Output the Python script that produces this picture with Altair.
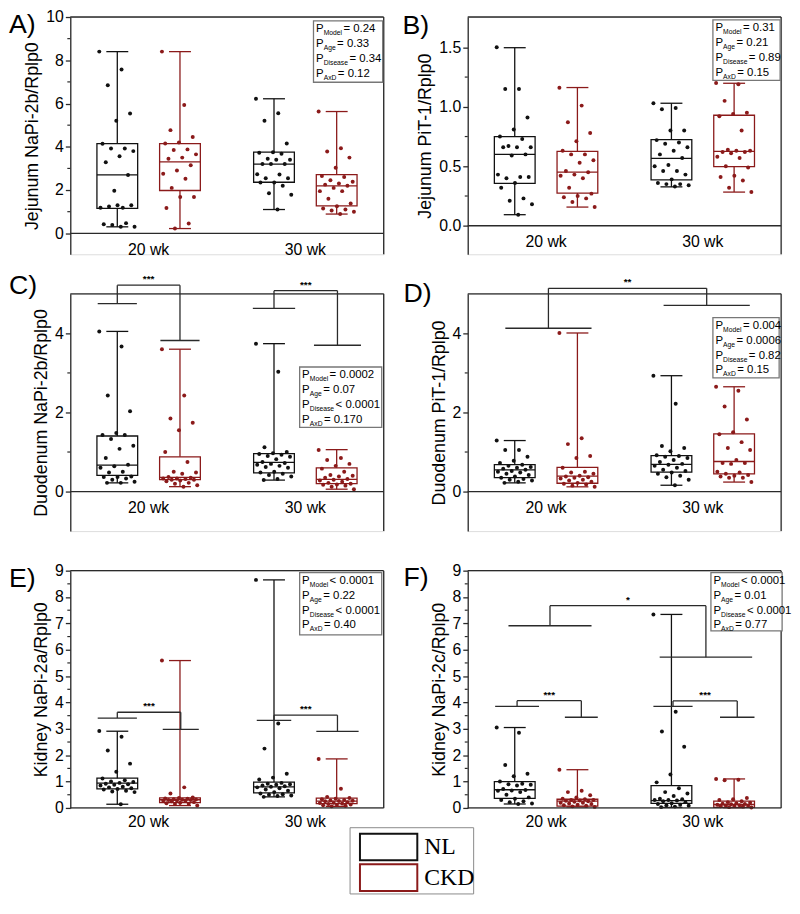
import altair as alt
import pandas as pd

FONT = "Liberation Sans"
NL_C = "#111111"
CKD_C = "#8B1A1A"
AX_C = "#2a2a2a"
W, H = 317, 240
POS = [0.6, 1.4, 2.6, 3.4]
GROUPS = ["NL", "CKD", "NL", "CKD"]
AGES = ["20 wk", "30 wk"]
AGE_POS = [1, 3]

# ---------------- Panel A : Jejunum NaPi-2b ----------------
A_NL20 = [8.4, 7.57, 6.85, 5.54, 5.2, 4.14, 3.92, 3.92, 3.8, 3.56, 3.29, 2.7, 1.97, 1.18, 1.18, 1.24, 1.3, 1.3, 0.42, 0.47, 0.38, 0.3, 0.3]
A_CKD20 = [8.4, 5.93, 4.77, 4.45, 4.2, 4.15, 3.88, 3.85, 3.65, 3.5, 3.45, 3.15, 2.9, 2.75, 2.52, 2.1, 1.68, 1.68, 1.17, 0.45, 0.22]
A_NL30 = [6.22, 5.55, 5.2, 4.15, 3.75, 3.72, 3.68, 3.45, 3.4, 3.4, 3.2, 3.2, 3.2, 2.73, 2.72, 2.55, 2.55, 2.35, 2.35, 2.2, 1.85, 1.78, 1.1]
A_CKD30 = [5.63, 3.93, 3.78, 3.5, 3.03, 2.65, 2.6, 2.45, 2.38, 2.3, 2.25, 2.2, 2.1, 1.95, 1.95, 1.6, 1.38, 1.25, 1.15, 1.1, 1.05, 1.0, 0.89]
A_STATS = [(0.3, 1.15, 2.7, 4.15, 8.4), (0.22, 1.98, 3.3, 4.15, 8.4), (1.1, 2.36, 3.2, 3.75, 6.22), (0.89, 1.27, 2.19, 2.71, 5.63)]
A_P = [("Model", "= 0.24"), ("Age", "= 0.33"), ("Disease", "= 0.34"), ("AxD", "= 0.12")]

# ---------------- Panel B : Jejunum PiT-1 ----------------
B_NL20 = [1.5, 1.15, 1.15, 0.91, 0.81, 0.75, 0.73, 0.67, 0.66, 0.66, 0.66, 0.6, 0.59, 0.43, 0.41, 0.4, 0.41, 0.36, 0.32, 0.23, 0.21, 0.18, 0.093]
B_CKD20 = [1.16, 1.01, 0.87, 0.78, 0.71, 0.63, 0.6, 0.6, 0.55, 0.53, 0.46, 0.45, 0.43, 0.42, 0.4, 0.32, 0.27, 0.25, 0.24, 0.23, 0.2, 0.157]
B_NL30 = [1.03, 0.99, 0.98, 0.8, 0.8, 0.72, 0.7, 0.69, 0.66, 0.63, 0.6, 0.57, 0.51, 0.5, 0.46, 0.46, 0.43, 0.39, 0.36, 0.35, 0.35, 0.34, 0.33]
B_CKD30 = [1.2, 1.19, 1.05, 0.95, 0.94, 0.92, 0.8, 0.64, 0.63, 0.63, 0.62, 0.62, 0.61, 0.58, 0.57, 0.5, 0.49, 0.42, 0.41, 0.38, 0.32, 0.283]
B_STATS = [(0.093, 0.357, 0.6, 0.75, 1.497), (0.157, 0.275, 0.45, 0.626, 1.162), (0.327, 0.385, 0.566, 0.725, 1.03), (0.283, 0.497, 0.626, 0.929, 1.198)]
B_P = [("Model", "= 0.31"), ("Age", "= 0.21"), ("Disease", "= 0.89"), ("AxD", "= 0.15")]

# ---------------- Panel C : Duodenum NaPi-2b ----------------
C_NL20 = [4.05, 3.67, 2.43, 2.03, 1.48, 1.43, 1.43, 1.33, 1.16, 1.08, 0.85, 0.68, 0.64, 0.6, 0.5, 0.48, 0.38, 0.37, 0.37, 0.33, 0.3, 0.25, 0.22, 0.22]
C_CKD20 = [3.6, 2.43, 1.85, 1.74, 1.55, 1.0, 0.75, 0.5, 0.48, 0.45, 0.37, 0.35, 0.33, 0.33, 0.32, 0.3, 0.3, 0.28, 0.26, 0.22, 0.2, 0.16, 0.124]
C_NL30 = [3.74, 3.03, 1.12, 1.0, 0.97, 0.95, 0.93, 0.9, 0.88, 0.82, 0.75, 0.72, 0.7, 0.68, 0.65, 0.62, 0.6, 0.5, 0.48, 0.45, 0.42, 0.38, 0.32, 0.29]
C_CKD30 = [1.05, 0.85, 0.8, 0.7, 0.65, 0.58, 0.5, 0.42, 0.4, 0.38, 0.35, 0.32, 0.3, 0.28, 0.25, 0.22, 0.2, 0.18, 0.17, 0.15, 0.12, 0.06]
C_STATS = [(0.22, 0.41, 0.67, 1.405, 4.05), (0.124, 0.3, 0.36, 0.88, 3.6), (0.29, 0.47, 0.74, 0.96, 3.74), (0.06, 0.2, 0.31, 0.6, 1.06)]
C_P = [("Model", "= 0.0002"), ("Age", "= 0.07"), ("Disease", "< 0.0001"), ("AxD", "= 0.170")]
# brackets: x left, x right, top, left leg end, right leg end, left cap half-width, right cap half-width, label
C_BR = [(0.6, 1.4, 5.22, 4.75, 3.82, 0.25, 0.25, "***"), (2.6, 3.41, 5.08, 4.63, 3.70, 0.27, 0.30, "***")]

# ---------------- Panel D : Duodenum PiT-1 ----------------
D_NL20 = [1.29, 1.05, 1.05, 0.88, 0.78, 0.72, 0.68, 0.65, 0.62, 0.6, 0.58, 0.55, 0.52, 0.5, 0.48, 0.45, 0.42, 0.38, 0.35, 0.32, 0.3, 0.28, 0.25, 0.22]
D_CKD20 = [4.01, 1.35, 1.2, 0.9, 0.85, 0.6, 0.5, 0.48, 0.45, 0.4, 0.38, 0.36, 0.35, 0.33, 0.3, 0.28, 0.25, 0.22, 0.2, 0.18, 0.15, 0.12]
D_NL30 = [2.93, 2.22, 1.15, 1.1, 1.02, 0.92, 0.9, 0.88, 0.85, 0.8, 0.75, 0.7, 0.68, 0.65, 0.6, 0.55, 0.52, 0.48, 0.45, 0.4, 0.36, 0.3, 0.16]
D_CKD30 = [2.65, 2.55, 2.15, 1.82, 1.5, 1.45, 1.25, 1.1, 1.05, 0.8, 0.72, 0.72, 0.7, 0.5, 0.48, 0.45, 0.42, 0.4, 0.38, 0.35, 0.35, 0.24]
D_STATS = [(0.22, 0.35, 0.55, 0.68, 1.29), (0.12, 0.21, 0.39, 0.61, 4.01), (0.16, 0.49, 0.69, 0.91, 2.93), (0.24, 0.45, 0.76, 1.46, 2.65)]
D_P = [("Model", "= 0.004"), ("Age", "= 0.0006"), ("Disease", "= 0.82"), ("AxD", "= 0.15")]
D_BR = [(1.03, 3.05, 5.14, 4.13, 4.71, 0.55, 0.55, "**")]

# ---------------- Panel E : Kidney NaPi-2a ----------------
E_NL20 = [2.92, 2.7, 2.18, 1.68, 1.37, 1.12, 1.05, 1.0, 0.98, 0.95, 0.92, 0.9, 0.88, 0.85, 0.8, 0.78, 0.75, 0.72, 0.7, 0.65, 0.62, 0.6, 0.14]
E_CKD20 = [5.59, 0.78, 0.55, 0.4, 0.38, 0.36, 0.35, 0.33, 0.32, 0.31, 0.3, 0.3, 0.28, 0.27, 0.26, 0.25, 0.22, 0.2, 0.18, 0.16, 0.15, 0.09]
E_NL30 = [8.65, 3.2, 2.25, 1.3, 1.15, 1.08, 0.95, 0.92, 0.9, 0.88, 0.85, 0.82, 0.8, 0.78, 0.75, 0.7, 0.65, 0.6, 0.55, 0.52, 0.5, 0.47, 0.45, 0.42]
E_CKD30 = [1.86, 0.73, 0.42, 0.38, 0.35, 0.33, 0.3, 0.28, 0.27, 0.26, 0.25, 0.22, 0.2, 0.19, 0.17, 0.15, 0.13, 0.12, 0.1, 0.08, 0.06]
E_STATS = [(0.14, 0.72, 0.94, 1.13, 2.91), (0.09, 0.2, 0.31, 0.38, 5.59), (0.42, 0.57, 0.8, 0.98, 8.65), (0.06, 0.16, 0.26, 0.37, 1.86)]
E_P = [("Model", "< 0.0001"), ("Age", "= 0.22"), ("Disease", "< 0.0001"), ("AxD", "= 0.40")]
E_BR = [(0.6, 1.41, 3.63, 3.41, 2.98, 0.25, 0.23, "***"), (2.6, 3.41, 3.52, 3.32, 2.90, 0.22, 0.27, "***")]

# ---------------- Panel F : Kidney NaPi-2c ----------------
F_NL20 = [3.05, 2.85, 1.63, 1.3, 1.2, 1.0, 0.92, 0.9, 0.88, 0.85, 0.72, 0.68, 0.66, 0.65, 0.6, 0.5, 0.4, 0.35, 0.3, 0.25, 0.22, 0.17, 0.15]
F_CKD20 = [1.45, 0.65, 0.6, 0.48, 0.4, 0.35, 0.33, 0.3, 0.3, 0.28, 0.27, 0.25, 0.23, 0.2, 0.2, 0.17, 0.15, 0.12, 0.1, 0.08, 0.06, 0.04]
F_NL30 = [7.34, 3.65, 2.9, 2.32, 1.27, 0.97, 0.75, 0.6, 0.55, 0.45, 0.35, 0.33, 0.3, 0.3, 0.28, 0.25, 0.22, 0.18, 0.15, 0.12, 0.1, 0.08, 0.05, 0.03]
F_CKD30 = [1.1, 1.07, 1.05, 0.38, 0.33, 0.3, 0.25, 0.22, 0.2, 0.18, 0.16, 0.15, 0.14, 0.12, 0.1, 0.09, 0.08, 0.07, 0.06, 0.05, 0.03, 0.02]
F_STATS = [(0.15, 0.36, 0.69, 1.0, 3.05), (0.04, 0.07, 0.26, 0.33, 1.45), (0.02, 0.17, 0.28, 0.85, 7.34), (0.01, 0.02, 0.13, 0.26, 1.1)]
F_P = [("Model", "< 0.0001"), ("Age", "= 0.01"), ("Disease", "< 0.0001"), ("AxD", "= 0.77")]
F_BR = [(1.05, 3.04, 7.67, 6.91, 5.72, 0.53, 0.59, "*"),
        (0.63, 1.45, 4.07, 3.85, 3.44, 0.28, 0.21, "***"),
        (2.62, 3.44, 4.06, 3.85, 3.44, 0.25, 0.22, "***")]

LEGEND_GROUPS = ["NL", "CKD"]
LEGEND_COLORS = [NL_C, CKD_C]

# approximate Arial widths (em) for subscript placement
EM = {"M": .833, "o": .556, "d": .556, "e": .556, "l": .222, "A": .667, "g": .556,
      "D": .722, "i": .222, "s": .5, "a": .556, "x": .5}
SUB_FS = 6.8
P_FS = 11.5

DUMMY = pd.DataFrame({"z": [0]})


def sub_width(s):
    return sum(EM.get(c, 0.55) for c in s) * SUB_FS


def panel(letter, lxy, ytitle, ydom, yticks, yminor, yfmt, pts, stats, brackets, pvals, pbox, lab_dy, legend=False):
    xs = alt.Scale(domain=[0, 4], nice=False, zero=False)
    ys = alt.Scale(domain=ydom, nice=False, zero=False)
    cscale = alt.Scale(domain=["NL", "CKD"], range=[NL_C, CKD_C])
    color = alt.Color("grp:N", scale=cscale, legend=None)

    yaxis = alt.Axis(values=yticks, format=yfmt, title=ytitle, grid=False, tickSize=5,
                     tickColor=AX_C, domainColor=AX_C, domainWidth=1.3, tickWidth=1.3,
                     labelFont=FONT, labelFontSize=16, labelColor="black", labelPadding=2,
                     titleFont=FONT, titleFontSize=18, titleFontWeight="normal",
                     titleColor="black", titlePadding=4)

    def Y(f):
        return alt.Y(f, scale=ys, axis=yaxis, title=ytitle)

    def X(f):
        return alt.X(f, scale=xs, axis=None)

    rows = []
    for gi in range(4):
        for k, v in enumerate(pts[gi]):
            rows.append({"pos": POS[gi], "grp": GROUPS[gi], "val": v, "k": k})
    pdf = pd.DataFrame(rows)
    sdf = pd.DataFrame([{"pos": POS[gi], "grp": GROUPS[gi], "lo": s[0], "q1": s[1],
                         "med": s[2], "q3": s[3], "hi": s[4]} for gi, s in enumerate(stats)])

    sb = alt.Chart(sdf).transform_calculate(
        bl="datum.pos-0.26", br="datum.pos+0.26", cl="datum.pos-0.14", cr="datum.pos+0.14")
    whisk = sb.mark_rule(strokeWidth=1.3).encode(x=X("pos:Q"), y=Y("lo:Q"), y2="hi:Q", color=color)
    cap_hi = sb.mark_rule(strokeWidth=1.3).encode(x=X("cl:Q"), x2="cr:Q", y=Y("hi:Q"), color=color)
    cap_lo = sb.mark_rule(strokeWidth=1.3).encode(x=X("cl:Q"), x2="cr:Q", y=Y("lo:Q"), color=color)
    box = sb.mark_rect(fill="white", strokeWidth=1.3).encode(
        x=X("bl:Q"), x2="br:Q", y=Y("q1:Q"), y2="q3:Q",
        stroke=alt.Stroke("grp:N", scale=cscale, legend=None))
    med = sb.mark_rule(strokeWidth=1.3).encode(x=X("bl:Q"), x2="br:Q", y=Y("med:Q"), color=color)
    dots = alt.Chart(pdf).transform_calculate(
        px="datum.pos + ((datum.k*0.618034) % 1 - 0.5)*0.46"
    ).mark_circle(size=16, opacity=1).encode(x=X("px:Q"), y=Y("val:Q"), color=color)

    zero = alt.Chart(DUMMY).mark_rule(color=AX_C, strokeWidth=1.3).encode(
        y=Y("z:Q"), x=alt.value(0), x2=alt.value(W))
    top = alt.Chart(DUMMY).mark_rule(color=AX_C, strokeWidth=1.3).encode(
        x=alt.value(0), x2=alt.value(W), y=alt.value(0))
    right = alt.Chart(DUMMY).mark_rule(color=AX_C, strokeWidth=1.3).encode(
        x=alt.value(W), y=alt.value(0), y2=alt.value(H))
    minor = alt.Chart(pd.DataFrame({"m": yminor})).mark_rule(color=AX_C, strokeWidth=1.2).encode(
        y=Y("m:Q"), x=alt.value(-3), x2=alt.value(0))

    labdf = pd.DataFrame({"xl": AGE_POS, "lab": AGES, "z": [0, 0]})
    labs = alt.Chart(labdf).mark_text(dy=lab_dy, fontSize=16, font=FONT, color="black").encode(
        x=X("xl:Q"), y=Y("z:Q"), text="lab:N")

    layers = [whisk, cap_hi, cap_lo, box, med, dots, zero, top, right, minor, labs]

    if brackets:
        bdf = pd.DataFrame(brackets, columns=["xa", "xb", "yt", "ya", "yb", "wa", "wb", "lab"])
        bb = alt.Chart(bdf).transform_calculate(
            xal="datum.xa-datum.wa", xar="datum.xa+datum.wa",
            xbl="datum.xb-datum.wb", xbr="datum.xb+datum.wb",
            xm="(datum.xa+datum.xb)/2")
        rk = dict(color=AX_C, strokeWidth=1.3)
        layers += [
            bb.mark_rule(**rk).encode(x=X("xa:Q"), x2="xb:Q", y=Y("yt:Q")),
            bb.mark_rule(**rk).encode(x=X("xa:Q"), y=Y("ya:Q"), y2="yt:Q"),
            bb.mark_rule(**rk).encode(x=X("xb:Q"), y=Y("yb:Q"), y2="yt:Q"),
            bb.mark_rule(**rk).encode(x=X("xal:Q"), x2="xar:Q", y=Y("ya:Q")),
            bb.mark_rule(**rk).encode(x=X("xbl:Q"), x2="xbr:Q", y=Y("yb:Q")),
            bb.mark_text(dy=-6, fontSize=10, font=FONT, color="black", fontWeight="bold").encode(
                x=X("xm:Q"), y=Y("yt:Q"), text="lab:N"),
        ]

    # p-value box
    x0, y0, x1, y1 = pbox
    layers.append(alt.Chart(DUMMY).mark_rect(fill="white", stroke="#777777", strokeWidth=1.3).encode(
        x=alt.value(x0), x2=alt.value(x1), y=alt.value(y0), y2=alt.value(y1)))
    for i, (sub, rest) in enumerate(pvals):
        yy = y0 + 8.5 + 15 * i
        tx = x0 + 2.5
        layers.append(alt.Chart(DUMMY).mark_text(align="left", baseline="middle", fontSize=P_FS,
                                                 font=FONT, color="black").encode(
            x=alt.value(tx), y=alt.value(yy), text=alt.value("P")))
        layers.append(alt.Chart(DUMMY).mark_text(align="left", baseline="middle", fontSize=SUB_FS,
                                                 font=FONT, color="black").encode(
            x=alt.value(tx + 7.8), y=alt.value(yy + 4), text=alt.value(sub)))
        layers.append(alt.Chart(DUMMY).mark_text(align="left", baseline="middle", fontSize=P_FS,
                                                 font=FONT, color="black").encode(
            x=alt.value(tx + 7.8 + sub_width(sub) + 1.5), y=alt.value(yy), text=alt.value(rest)))

    # panel letter
    layers.append(alt.Chart(DUMMY).mark_text(align="left", baseline="top", fontSize=27,
                                             font=FONT, color="black").encode(
        x=alt.value(lxy[0]), y=alt.value(lxy[1]), text=alt.value(letter)))

    if legend:
        lx0, ly0, lx1, ly1 = 283, H + 20, 408, H + 87
        layers.append(alt.Chart(DUMMY).mark_rect(fill="white", stroke="#8a8a8a", strokeWidth=1).encode(
            x=alt.value(lx0), x2=alt.value(lx1), y=alt.value(ly0), y2=alt.value(ly1)))
        for i, (g, c) in enumerate(zip(LEGEND_GROUPS, LEGEND_COLORS)):
            sy = ly0 + 6 + 31 * i
            layers.append(alt.Chart(DUMMY).mark_rect(fill="white", stroke=c, strokeWidth=2).encode(
                x=alt.value(lx0 + 10), x2=alt.value(lx0 + 68), y=alt.value(sy), y2=alt.value(sy + 27)))
            layers.append(alt.Chart(DUMMY).mark_text(align="left", baseline="middle", fontSize=24,
                                                     font="Liberation Serif", color="black").encode(
                x=alt.value(lx0 + 75), y=alt.value(sy + 14), text=alt.value(g)))

    return alt.layer(*layers).properties(width=W, height=H)


pA = panel("A)", (-62, -5), "Jejunum NaPi-2b/Rplp0", [-0.97, 10], [0, 2, 4, 6, 8, 10], [1, 3, 5, 7, 9], "d",
           [A_NL20, A_CKD20, A_NL30, A_CKD30], A_STATS, None, A_P, (246, 4, 316, 66), 17)
pB = panel("B)", (-66, -4), "Jejunum PiT-1/Rplp0", [-0.24, 1.755], [0, 0.5, 1.0, 1.5], [0.25, 0.75, 1.25], ".1f",
           [B_NL20, B_CKD20, B_NL30, B_CKD30], B_STATS, None, B_P, (248, 3, 316, 64), 17)
pC = panel("C)", (-62, -21), "Duodenum NaPi-2b/Rplp0", [-1.0, 5.0], [0, 2, 4], [1, 3], "d",
           [C_NL20, C_CKD20, C_NL30, C_CKD30], C_STATS, C_BR, C_P, (232, 74, 315, 135), 17)
pD = panel("D)", (-65, -13), "Duodenum PiT-1/Rplp0", [-1.0, 5.0], [0, 2, 4], [1, 3], "d",
           [D_NL20, D_CKD20, D_NL30, D_CKD30], D_STATS, D_BR, D_P, (248, 24, 315, 85), 17)
pE = panel("E)", (-62, -4), "Kidney NaPi-2a/Rplp0", [0, 9], list(range(10)), [i + 0.5 for i in range(9)], "d",
           [E_NL20, E_CKD20, E_NL30, E_CKD30], E_STATS, E_BR, E_P, (232, 2, 315, 65), 14, legend=True)
pF = panel("F)", (-65, -5), "Kidney NaPi-2c/Rplp0", [0, 9], list(range(10)), [i + 0.5 for i in range(9)], "d",
           [F_NL20, F_CKD20, F_NL30, F_CKD30], F_STATS, F_BR, F_P, (246, 2, 318, 61), 14)

chart = alt.concat(pA, pB, pC, pD, pE, pF, columns=2,
                   spacing={"row": 40, "column": 85}, bounds="flush").properties(
    padding={"left": 0, "top": -5, "right": 0, "bottom": 0}
).configure_view(stroke=None).configure(background="white")

chart.save("out.html", embed_options={"renderer": "svg", "actions": False})
